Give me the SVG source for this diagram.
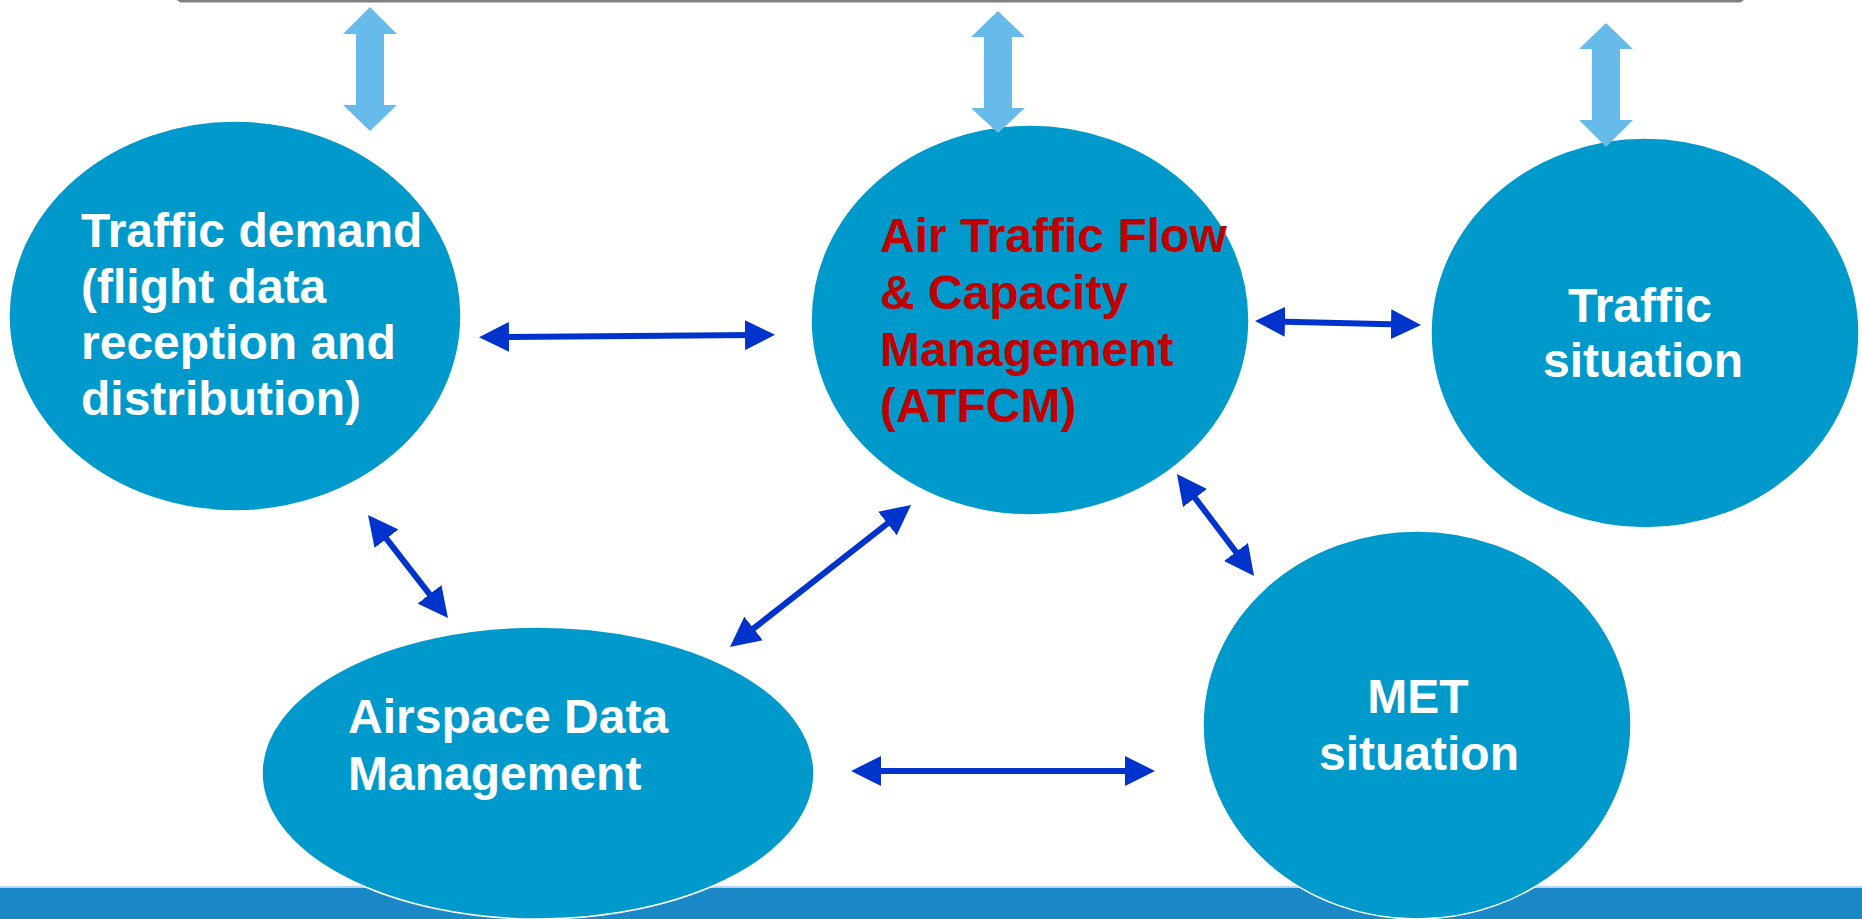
<svg xmlns="http://www.w3.org/2000/svg" width="1862" height="919" viewBox="0 0 1862 919">
<defs>
<style>
.node{fill:#0099CC;stroke:#ffffff;stroke-width:1.5}
.lbl{font-family:"Liberation Sans",Arial,sans-serif;font-weight:bold;font-size:48px;fill:#ffffff}
.red{fill:#C00000}
.conn{stroke:#0033CC;stroke-width:6;fill:none;marker-start:url(#ah);marker-end:url(#ah)}
.big{fill:#66BBEB}
</style>
<marker id="ah" viewBox="0 0 30 30" refX="10" refY="15" markerWidth="30" markerHeight="30" markerUnits="userSpaceOnUse" orient="auto-start-reverse">
<path d="M0,0 L30,15 L0,30 z" fill="#0033CC"/>
</marker>
</defs>
<rect x="0" y="0" width="1862" height="919" fill="#ffffff"/>
<rect x="178" y="-30" width="1565" height="31" rx="4" fill="#ffffff" stroke="#808080" stroke-width="3"/>
<rect x="0" y="886" width="1862" height="2" fill="#B8D4EA"/>
<rect x="0" y="888" width="1862" height="31" fill="#1A87C6"/>

<g id="traffic-demand">
<ellipse class="node" cx="235" cy="316" rx="226" ry="195"/>
<text class="lbl" x="81" y="247">Traffic demand</text>
<text class="lbl" x="81" y="303">(flight data</text>
<text class="lbl" x="81" y="359">reception and</text>
<text class="lbl" x="81" y="415">distribution)</text>
</g>
<g id="atfcm">
<ellipse class="node" cx="1030" cy="320" rx="219" ry="195"/>
<text class="lbl red" x="880" y="252">Air Traffic Flow</text>
<text class="lbl red" x="880" y="309">&amp; Capacity</text>
<text class="lbl red" x="880" y="366">Management</text>
<text class="lbl red" x="880" y="422">(ATFCM)</text>
</g>
<g id="traffic-situation">
<ellipse class="node" cx="1645" cy="333" rx="214" ry="195"/>
<text class="lbl" x="1640" y="322" text-anchor="middle">Traffic</text>
<text class="lbl" x="1643" y="377" text-anchor="middle">situation</text>
</g>
<g id="airspace">
<ellipse class="node" cx="538" cy="773" rx="276" ry="146"/>
<text class="lbl" x="348" y="733">Airspace Data</text>
<text class="lbl" x="348" y="790">Management</text>
</g>
<g id="met">
<ellipse class="node" cx="1417" cy="725" rx="214" ry="194"/>
<text class="lbl" x="1418" y="713" text-anchor="middle">MET</text>
<text class="lbl" x="1419" y="770" text-anchor="middle">situation</text>
</g>

<g id="connectors">
<line class="conn" x1="499" y1="337" x2="755" y2="335"/>
<line class="conn" x1="1275" y1="321.5" x2="1401" y2="324.5"/>
<line class="conn" x1="380.3" y1="530.8" x2="435.7" y2="602.2"/>
<line class="conn" x1="745.7" y1="634.7" x2="895.3" y2="517.3"/>
<line class="conn" x1="1189" y1="490" x2="1242" y2="560"/>
<line class="conn" x1="871" y1="771" x2="1135" y2="771"/>
<polygon class="big" points="370,7 397,34 384,34 384,105 397,105 370,131 343,105 356,105 356,34 343,34"/>
<polygon class="big" points="998,11 1025,37 1012,37 1012,108 1025,108 998,133 971,108 984,108 984,37 971,37"/>
<polygon class="big" points="1606,23 1633,49 1620,49 1620,120 1633,120 1606,147 1579,120 1592,120 1592,49 1579,49"/>
</g>
</svg>
